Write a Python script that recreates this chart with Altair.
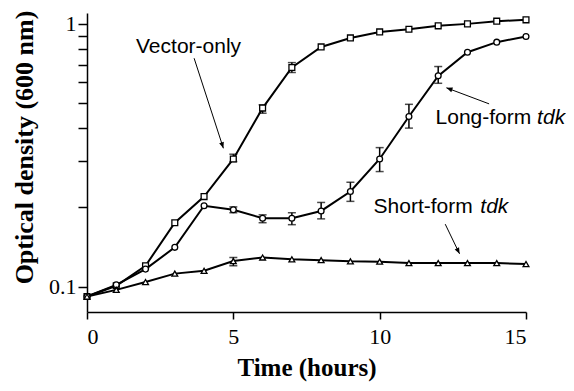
import altair as alt
import pandas as pd

# ---- data ----
hours = list(range(16))
vector_only = [0.0916, 0.1007, 0.120, 0.175, 0.220, 0.306, 0.478, 0.682, 0.817,
               0.884, 0.932, 0.954, 0.983, 1.0, 1.024, 1.036]
long_form = [0.0916, 0.1015, 0.1165, 0.141, 0.203, 0.196, 0.182, 0.182, 0.194,
             0.230, 0.306, 0.444, 0.634, 0.78, 0.852, 0.895]
short_form = [0.0916, 0.0971, 0.104, 0.112, 0.1148, 0.125, 0.129, 0.127, 0.126,
              0.1247, 0.1244, 0.1228, 0.1228, 0.1228, 0.1228, 0.1218]
series_names = ["Vector-only", "Long-form", "Short-form"]

# error bars (series, hour, low, high)
err_series = ["Vector-only", "Vector-only", "Vector-only",
              "Long-form", "Long-form", "Long-form", "Long-form", "Long-form",
              "Long-form", "Long-form", "Long-form", "Short-form"]
err_hour = [5, 6, 7, 5, 6, 7, 8, 9, 10, 11, 12, 5]
err_low = [0.299, 0.457, 0.653, 0.191, 0.175, 0.172, 0.181, 0.211, 0.274, 0.401, 0.594, 0.120]
err_high = [0.319, 0.492, 0.712, 0.201, 0.1875, 0.191, 0.209, 0.2495, 0.338, 0.494, 0.688, 0.129]

# annotation labels
label_text = ["Vector-only", "Long-form", "tdk", "Short-form", "tdk"]
label_x = [1.675, 11.91, 15.38, 9.79, 13.44]
label_y = [0.774, 0.416, 0.416, 0.190, 0.190]
label_italic = [False, False, True, False, True]

# arrows (start -> tip)
arrow_x0 = [3.66, 13.74, 12.24]
arrow_y0 = [0.740, 0.496, 0.1728]
arrow_x1 = [4.66, 12.28, 12.73]
arrow_y1 = [0.336, 0.571, 0.1332]
arrow_angle = [162, 290, 154]

# ---- tables ----
rows = []
for name, vals in zip(series_names, [vector_only, long_form, short_form]):
    for h, v in zip(hours, vals):
        rows.append({"series": name, "hour": h, "od": v})
df = pd.DataFrame(rows)
err_df = pd.DataFrame({"series": err_series, "hour": err_hour, "lo": err_low, "hi": err_high})
lab_df = pd.DataFrame({"text": label_text, "x": label_x, "y": label_y, "italic": label_italic})
arr_df = pd.DataFrame({"x0": arrow_x0, "y0": arrow_y0, "x1": arrow_x1, "y1": arrow_y1,
                       "angle": arrow_angle})

serif = "Liberation Serif"
sans = "Liberation Sans"

xscale = alt.Scale(domain=[0, 15], nice=False, zero=False)
yscale = alt.Scale(type="log", domain=[0.08, 1.1], nice=False)

xaxis = alt.Axis(values=[0, 5, 10, 15], grid=False, tickSize=7, labelPadding=7,
                 labelFont=serif, labelFontSize=22, labelColor="black",
                 title="Time (hours)", titleFont=serif, titleFontSize=25,
                 titleFontWeight="bold", titleColor="black", titlePadding=8,
                 domainColor="black", tickColor="black", domainWidth=1.5, tickWidth=1.5)
yaxis = alt.Axis(values=[0.1, 0.2, 0.3, 0.4, 0.5, 0.6, 0.7, 0.8, 0.9, 1.0], grid=False,
                 tickSize=9, labelPadding=2,
                 labelExpr="datum.value == 1 ? '1' : (datum.value == 0.1 ? '0.1' : '')",
                 labelFont=serif, labelFontSize=22, labelColor="black",
                 title="Optical density (600 nm)", titleFont=serif, titleFontSize=26,
                 titleFontWeight="bold", titleColor="black", titlePadding=11, titleY=134,
                 domainColor="black", tickColor="black", domainWidth=1.5, tickWidth=1.5)

x = alt.X("hour:Q", scale=xscale, axis=xaxis)
y = alt.Y("od:Q", scale=yscale, axis=yaxis)

lines = alt.Chart(df).mark_line(color="black").encode(
    x=x, y=y, detail="series:N",
    strokeWidth=alt.StrokeWidth("series:N", scale=alt.Scale(domain=series_names, range=[2, 2, 1.4]),
                                legend=None),
)

err_rule = alt.Chart(err_df).mark_rule(color="black", strokeWidth=1.5).encode(
    x=alt.X("hour:Q", scale=xscale), y=alt.Y("lo:Q", scale=yscale), y2="hi:Q")
err_cap_lo = alt.Chart(err_df).mark_tick(color="black", orient="horizontal", size=8, thickness=1.5).encode(
    x=alt.X("hour:Q", scale=xscale), y=alt.Y("lo:Q", scale=yscale))
err_cap_hi = alt.Chart(err_df).mark_tick(color="black", orient="horizontal", size=8, thickness=1.5).encode(
    x=alt.X("hour:Q", scale=xscale), y=alt.Y("hi:Q", scale=yscale))

points = alt.Chart(df).mark_point(filled=True, fill="white", stroke="black", strokeWidth=1.3, opacity=1).encode(
    x=alt.X("hour:Q", scale=xscale), y=alt.Y("od:Q", scale=yscale),
    shape=alt.Shape("series:N", scale=alt.Scale(domain=series_names,
                                                range=["square", "circle", "triangle-up"]), legend=None),
    size=alt.Size("series:N", scale=alt.Scale(domain=series_names, range=[34, 34, 40]), legend=None),
)

text_reg = alt.Chart(lab_df).transform_filter("!datum.italic").mark_text(
    align="left", baseline="alphabetic", font=sans, fontSize=21, color="black").encode(
    x=alt.X("x:Q", scale=xscale), y=alt.Y("y:Q", scale=yscale), text="text:N")
text_it = alt.Chart(lab_df).transform_filter("datum.italic").mark_text(
    align="left", baseline="alphabetic", font=sans, fontSize=21, fontStyle="italic", color="black").encode(
    x=alt.X("x:Q", scale=xscale), y=alt.Y("y:Q", scale=yscale), text="text:N")

arrow_shaft = alt.Chart(arr_df).mark_rule(color="black", strokeWidth=1).encode(
    x=alt.X("x0:Q", scale=xscale), y=alt.Y("y0:Q", scale=yscale), x2="x1:Q", y2="y1:Q")
arrow_head = alt.Chart(arr_df).mark_point(shape="M0,0L-0.4,1L0.4,1Z", filled=True, color="black",
                                          opacity=1, size=150).encode(
    x=alt.X("x1:Q", scale=xscale), y=alt.Y("y1:Q", scale=yscale),
    angle=alt.Angle("angle:Q", scale=None))

chart = alt.layer(lines, err_rule, err_cap_lo, err_cap_hi, points, arrow_shaft, arrow_head,
                  text_reg, text_it).properties(
    width=439, height=299,
    autosize=alt.AutoSizeParams(type="none"),
    padding={"left": 79, "top": 5, "right": 40, "bottom": 70},
    background="white",
).configure_view(stroke=None)

chart.save("out.html", embed_options={"renderer": "svg", "actions": False})
